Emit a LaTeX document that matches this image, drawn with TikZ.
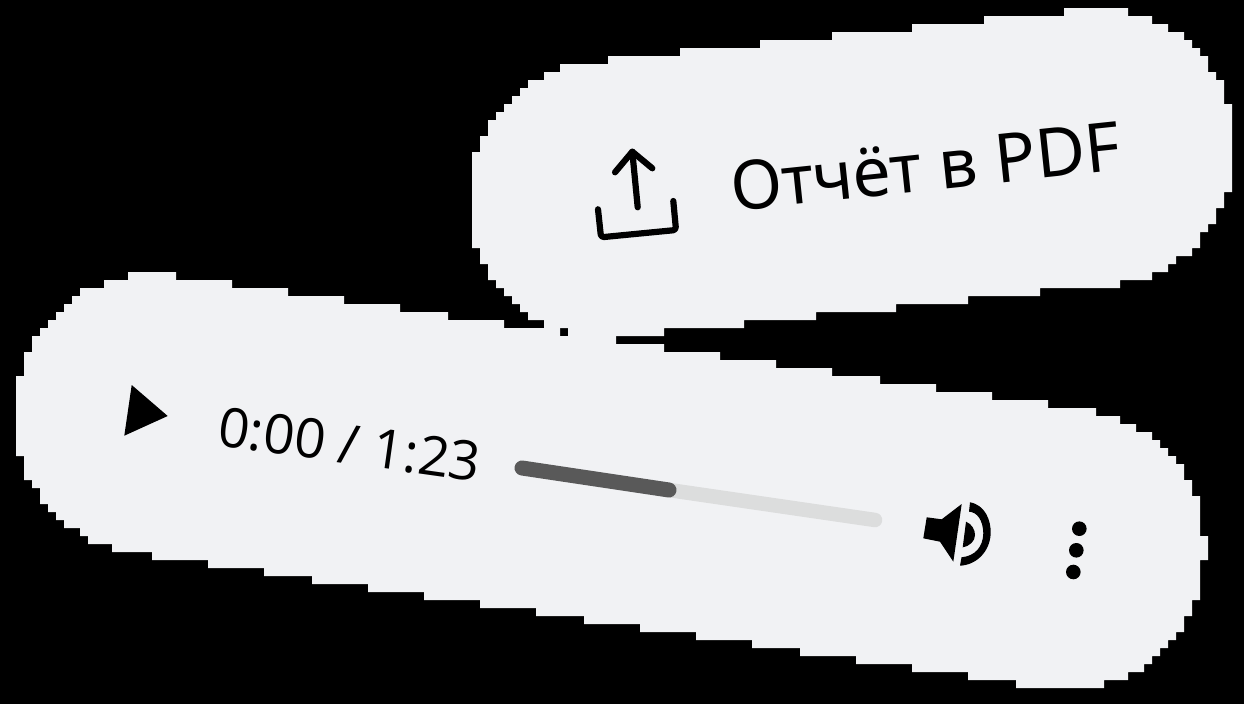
\documentclass[tikz,border=0pt]{standalone}
\usepackage{fontspec}
\setmainfont{Noto Sans}
\newfontfamily\timefont{Open Sans}
\definecolor{pillgrey}{HTML}{F1F2F4}
\definecolor{bardark}{HTML}{595959}
\definecolor{barlight}{HTML}{DCDDDD}
\tikzset{
  pill/.style={fill=pillgrey,draw=none},
  icon/.style={fill=black,draw=none},
  iconline/.style={draw=black,line width=6.2pt,line cap=round,line join=round},
  pdflabel/.style={inner sep=0pt,outer sep=0pt,anchor=base west,rotate=6,text=black,font=\fontsize{68}{76}\selectfont},
  timelabel/.style={inner sep=0pt,outer sep=0pt,anchor=base west,rotate=-8,text=black,font=\timefont\fontsize{54.5}{62}\selectfont}
}
\begin{document}
\begin{tikzpicture}[x=1pt,y=-1pt]
\useasboundingbox (0,0) rectangle (1244,704);
\fill[black] (0,0) rectangle (1244,704);
% upper pill
\fill[pill] (472,248) |- (480,152) |- (488,136) |- (496,120) |- (504,112) |- (512,104) |- (520,96) |- (528,88) |- (544,80) |- (560,72) |- (608,64) |- (680,56) |- (760,48) |- (832,40) |- (912,32) |- (984,24) |- (1064,16) |- (1128,8) |- (1152,16) |- (1168,24) |- (1184,32) |- (1192,40) |- (1200,48) |- (1208,56) |- (1216,72) |- (1224,80) |- (1232,104)
 -- (1232,192) -- (1224,192) |- (1216,208) |- (1208,224) |- (1200,232) |- (1192,248) |- (1176,256) |- (1168,264) |- (1152,272) |- (1120,280) |- (1040,288) |- (968,296) |- (896,304) |- (816,312) |- (744,320) |- (664,328) |- (568,336) |- (544,328) |- (528,320) |- (520,312) |- (512,304) |- (504,296) |- (496,288) |- (488,280) |- (480,264) |- (472,248) -- cycle;
% lower pill
\fill[pill] (16,456) |- (24,376) |- (32,352) |- (40,336) |- (48,328) |- (56,320) |- (64,312) |- (72,304) |- (80,296) |- (104,288) |- (128,280) |- (176,272) |- (232,280) |- (288,288) |- (344,296) |- (400,304) |- (448,312) |- (504,320) |- (560,328) |- (616,336) |- (664,344) |- (720,352) |- (776,360) |- (832,368) |- (880,376) |- (936,384) |- (992,392) |- (1048,400) |- (1096,408) |- (1120,416) |- (1136,424) |- (1152,432) |- (1160,440) |- (1168,448) |- (1176,456) |- (1184,464) |- (1192,480) |- (1200,496) |- (1208,536)
 -- (1208,560) -- (1200,560) |- (1192,600) |- (1184,616) |- (1176,632) |- (1168,640) |- (1160,648) |- (1152,656) |- (1144,664) |- (1128,672) |- (1104,680) |- (1016,688) |- (968,680) |- (912,672) |- (856,664) |- (800,656) |- (752,648) |- (696,640) |- (640,632) |- (584,624) |- (536,616) |- (480,608) |- (424,600) |- (368,592) |- (312,584) |- (264,576) |- (208,568) |- (152,560) |- (112,552) |- (88,544) |- (80,536) |- (64,528) |- (56,520) |- (48,512) |- (40,504) |- (32,488) |- (24,480) |- (16,456) -- cycle;
% upload icon
\draw[iconline] (637.7,207.3) -- (632.3,151.7);
\draw[iconline] (615,172.3) -- (632.3,151.7) -- (652.3,168.3);
\draw[iconline,rounded corners=3pt] (598,209.3) -- (601,237.3) -- (676,230) -- (673.3,201);
% labels
\node[pdflabel] (pdf) at (733,211) {Отчёт в PDF};
\node[timelabel] (time) at (216,445) {0:00 / 1:23};
% play
\fill[icon] (131.7,385) -- (167.7,416) -- (124.3,435.7) -- cycle;
% progress bar
\coordinate (barstart) at (522,468);
\coordinate (barmid) at (669,490);
\coordinate (barend) at (875,520);
\draw[barlight,line width=14.5pt,line cap=round] (barmid) -- (barend);
\draw[bardark,line width=15pt,line cap=round] (barstart) -- (barmid);
% speaker
\fill[icon] (926.7,517.3) -- (941.7,519.3) -- (961.7,504) -- (953.3,561.7) -- (940,541.7) -- (923.3,538.3) -- cycle;
\fill[icon] (966,521.7) .. controls (972,524) and (975,530) .. (975,535) .. controls (975,541) and (970,546) .. (962.7,547.3) -- cycle;
\fill[icon] (970,502.3) .. controls (985,505) and (991,520) .. (990.7,533.3) .. controls (990,552) and (976,565) .. (960,565.7) -- (961.5,557.3) .. controls (975,556) and (983,547) .. (983.3,533.3) .. controls (983,520) and (977,512) .. (969,511.7) -- cycle;
% menu dots
\fill[icon] (1079.3,528.7) circle[radius=7.3];
\fill[icon] (1076.3,550.3) circle[radius=7.3];
\fill[icon] (1073.3,572) circle[radius=7.3];
\end{tikzpicture}
\end{document}
